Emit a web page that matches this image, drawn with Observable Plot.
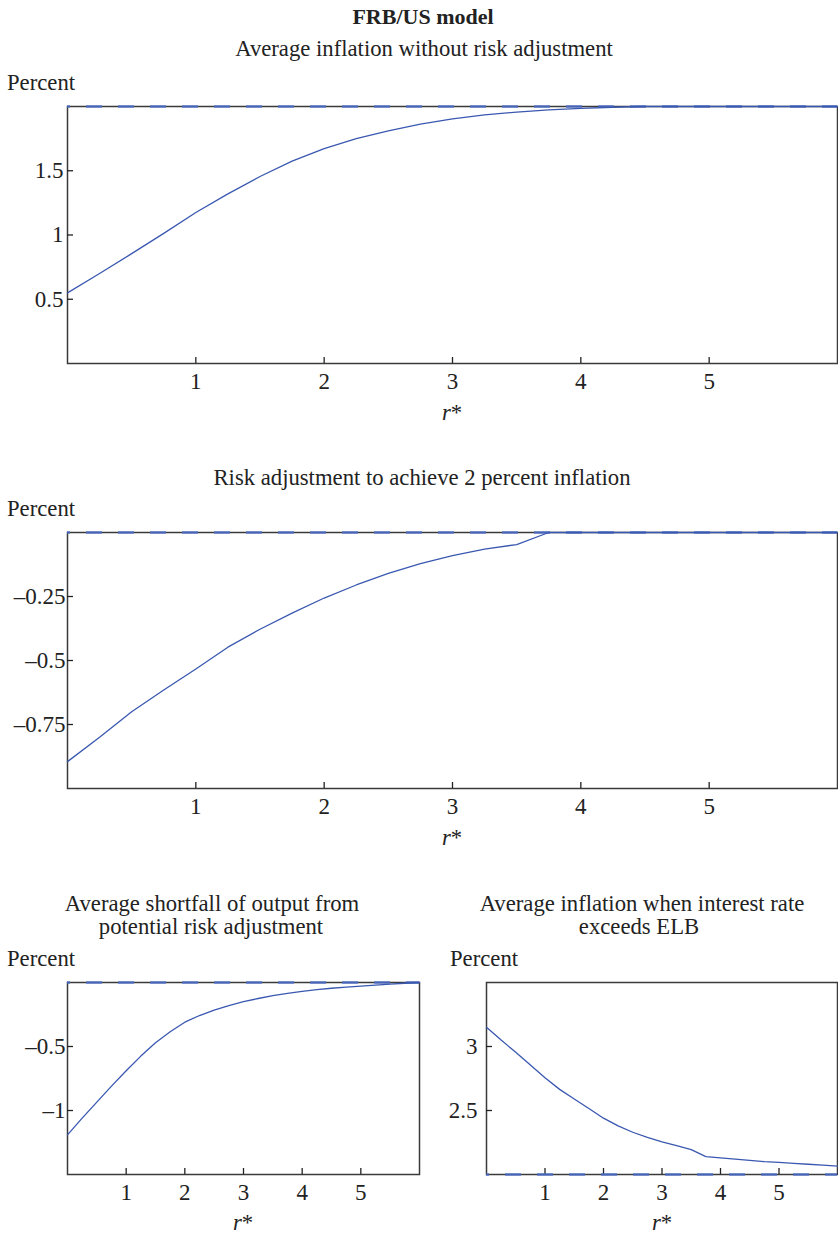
<!DOCTYPE html>
<html><head><meta charset="utf-8">
<script src="https://cdn.jsdelivr.net/npm/d3@7"></script>
<script src="https://cdn.jsdelivr.net/npm/@observablehq/plot@0.6"></script>
<style>
body{margin:0;background:#fff}
#root{position:relative;width:838px;height:1234px;overflow:hidden;background:#fff}
#root svg{position:absolute}
</style></head><body><div id="root"></div>
<script>
// r* grid
const rStar = [0,0.25,0.5,0.75,1,1.25,1.5,1.75,2,2.25,2.5,2.75,3,3.25,3.5,3.75,4,4.25,4.5,4.75,5,5.25,5.5,5.75,6];
// Panel 1: Average inflation without risk adjustment
const avgInflation = [0.55,0.70,0.855,1.013,1.175,1.32,1.455,1.575,1.672,1.75,1.81,1.862,1.903,1.935,1.957,1.973,1.985,1.994,2.0,2.0,2.0,2.0,2.0,2.0,2.0];
// Panel 2: Risk adjustment to achieve 2 percent inflation
const riskAdjustment = [-0.895,-0.80,-0.70,-0.615,-0.533,-0.448,-0.378,-0.315,-0.256,-0.205,-0.16,-0.122,-0.09,-0.065,-0.047,0,0,0,0,0,0,0,0,0,0];
// Panel 3: Average shortfall of output from potential risk adjustment
const outputShortfall = [-1.19,-1.06,-0.935,-0.81,-0.69,-0.575,-0.47,-0.385,-0.31,-0.258,-0.215,-0.18,-0.15,-0.125,-0.103,-0.085,-0.069,-0.056,-0.045,-0.036,-0.028,-0.02,-0.013,-0.006,0];
// Panel 4: Average inflation when interest rate exceeds ELB
const inflationAboveELB = [3.15,3.05,2.955,2.855,2.755,2.665,2.59,2.515,2.44,2.38,2.33,2.29,2.255,2.225,2.195,2.14,2.13,2.12,2.11,2.10,2.094,2.087,2.08,2.073,2.065];

const xTicks = [1,2,3,4,5];
const yTicks1 = [0.5,1,1.5];
const yTicks2 = [-0.75,-0.5,-0.25];
const yTicks3 = [-1,-0.5];
const yTicks4 = [2.5,3];

const FONT = '"Liberation Serif","Times New Roman",serif';
const fmt = d => d < 0 ? "\u2013" + String(Math.abs(d)) : String(d);
const root = document.getElementById("root");

function panel({values, target, yDomain, yTicks, left, top, width, height, mL, mR, mT, mB, yPad}) {
  const data = rStar.map((r, i) => ({r, v: values[i]}));
  const fh = height - mT - mB, fw = width - mL - mR;
  const chart = Plot.plot({
    width, height, marginLeft: mL, marginRight: mR, marginTop: mT, marginBottom: mB,
    style: {fontFamily: FONT, fontSize: "23px", color: "#222", background: "transparent", overflow: "visible"},
    x: {domain: [0, 6]},
    y: {domain: yDomain},
    marks: [
      Plot.frame({stroke: "#3a3a3a", strokeWidth: 1.5}),
      Plot.tickX(xTicks, {x: d => d, insetTop: fh - 6, stroke: "#222", strokeWidth: 1.3}),
      Plot.tickY(yTicks, {y: d => d, insetRight: fw - 6, stroke: "#222", strokeWidth: 1.3}),
      Plot.axisX({ticks: xTicks, tickSize: 0, tickPadding: 9, tickFormat: d => String(d), label: null, fill: "#222"}),
      Plot.axisY({ticks: yTicks, tickSize: 0, tickPadding: yPad, tickFormat: fmt, label: null, fill: "#222"}),
      Plot.ruleY([target], {stroke: "#4a6cc4", strokeWidth: 2.6, strokeDasharray: "16,16", strokeDashoffset: 13, strokeOpacity: 0.9}),
      Plot.line(data, {x: "r", y: "v", stroke: "#3a58b0", strokeWidth: 1.3})
    ]
  });
  chart.style.left = left + "px";
  chart.style.top = top + "px";
  root.appendChild(chart);
}

panel({values: avgInflation, target: 2, yDomain: [0, 2], yTicks: yTicks1,
  left: 0, top: 96, width: 838, height: 340, mL: 67, mR: 1, mT: 10, mB: 73, yPad: 4});
panel({values: riskAdjustment, target: 0, yDomain: [-1, 0], yTicks: yTicks2,
  left: 0, top: 522, width: 838, height: 340, mL: 67, mR: 1, mT: 10, mB: 74, yPad: 2});
panel({values: outputShortfall, target: 0, yDomain: [-1.5, 0], yTicks: yTicks3,
  left: 0, top: 972, width: 420, height: 262, mL: 67, mR: 1, mT: 10, mB: 60, yPad: 2});
panel({values: inflationAboveELB, target: 2, yDomain: [2, 3.5], yTicks: yTicks4,
  left: 420, top: 972, width: 418, height: 262, mL: 66, mR: 1, mT: 10, mB: 60, yPad: 9});

// Titles and labels
const texts = [
  {t: "FRB/US model", x: 423, y: 24, a: "middle", w: "bold", s: 22},
  {t: "Average inflation without risk adjustment", x: 424, y: 56, a: "middle"},
  {t: "Percent", x: 7, y: 90, a: "start"},
  {t: "Risk adjustment to achieve 2 percent inflation", x: 422, y: 485, a: "middle"},
  {t: "Percent", x: 7, y: 516, a: "start"},
  {t: "Average shortfall of output from", x: 212, y: 911, a: "middle"},
  {t: "potential risk adjustment", x: 211, y: 934, a: "middle"},
  {t: "Average inflation when interest rate", x: 642, y: 911, a: "middle"},
  {t: "exceeds ELB", x: 639, y: 934, a: "middle"},
  {t: "Percent", x: 7, y: 966, a: "start"},
  {t: "Percent", x: 450, y: 966, a: "start"}
];
const rLabels = [{x: 452, y: 420}, {x: 452, y: 845}, {x: 243, y: 1230}, {x: 662, y: 1230}];

const ns = "http://www.w3.org/2000/svg";
const ov = document.createElementNS(ns, "svg");
ov.setAttribute("width", 838); ov.setAttribute("height", 1234);
ov.style.left = "0px"; ov.style.top = "0px";
ov.style.fontFamily = FONT; ov.style.fontSize = "22.7px";
for (const d of texts) {
  const el = document.createElementNS(ns, "text");
  el.setAttribute("x", d.x); el.setAttribute("y", d.y);
  el.setAttribute("text-anchor", d.a); el.setAttribute("fill", "#222");
  if (d.w) el.setAttribute("font-weight", d.w);
  if (d.s) el.setAttribute("font-size", d.s + "px");
  el.textContent = d.t;
  ov.appendChild(el);
}
for (const d of rLabels) {
  const el = document.createElementNS(ns, "text");
  el.setAttribute("x", d.x); el.setAttribute("y", d.y);
  el.setAttribute("text-anchor", "middle"); el.setAttribute("fill", "#222");
  const ts = document.createElementNS(ns, "tspan");
  ts.setAttribute("font-style", "italic"); ts.textContent = "r";
  el.appendChild(ts);
  el.appendChild(document.createTextNode("*"));
  ov.appendChild(el);
}
root.appendChild(ov);
</script>
</body></html>
